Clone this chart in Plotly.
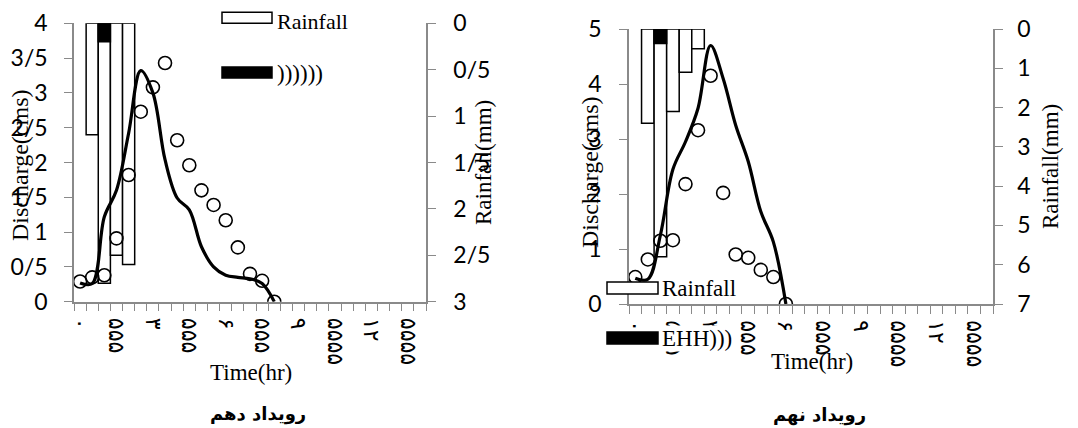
import plotly.graph_objects as go

# ---------------- data ----------------
# Event 10 (left chart)
ev10_obs_t = list(range(17))
ev10_obs_q = [0.29, 0.35, 0.38, 0.91, 1.82, 2.73, 3.08, 3.43, 2.32, 1.96,
              1.60, 1.39, 1.17, 0.78, 0.40, 0.30, 0.0]
ev10_sim_t = list(range(17))
ev10_sim_q = [0.27, 0.26, 1.22, 1.60, 2.42, 3.32, 3.00, 2.04, 1.49, 1.32,
              0.79, 0.50, 0.38, 0.35, 0.33, 0.26, 0.0]
ev10_rain_t = [1, 2, 3, 4]
ev10_rain = [1.2, 2.8, 2.5, 2.6]
ev10_excess_t = [2]
ev10_excess = [0.2]

# Event 9 (right chart)
ev9_obs_t = list(range(13))
ev9_obs_q = [0.49, 0.81, 1.15, 1.16, 2.18, 3.16, 4.15, 2.02, 0.90, 0.84,
             0.62, 0.49, 0.0]
ev9_sim_t = list(range(13))
ev9_sim_q = [0.47, 0.45, 1.25, 2.45, 2.95, 3.56, 4.70, 4.10, 3.25, 2.59,
             1.68, 1.13, 0.0]
ev9_rain_t = [1, 2, 3, 4, 5]
ev9_rain = [2.4, 5.8, 2.1, 1.1, 0.5]
ev9_excess_t = [2]
ev9_excess = [0.37]

# axis ticks (category boundaries carry the tick marks; every third one a label)
n_cats = 29
x_label_cats = [0, 3, 6, 9, 12, 15, 18, 21, 24, 27]
x_label_text = ["۰", "۵۵۵", "۳", "۵۵۵", "۶", "۵۵۵", "۹", "۵۵۵۵", "۱۲", "۵۵۵۵"]
x_boundaries = [k - 0.5 for k in range(n_cats + 1)]
x_boundary_text = [x_label_text[x_label_cats.index(k)] if k in x_label_cats else ""
                   for k in range(n_cats + 1)]
ev10_q_ticks = [0, 0.5, 1, 1.5, 2, 2.5, 3, 3.5, 4]
ev10_q_text = ["0", "0/5", "1", "1/5", "2", "2/5", "3", "3/5", "4"]
ev10_r_ticks = [0, 0.5, 1, 1.5, 2, 2.5, 3]
ev10_r_text = ["0", "0/5", "1", "1/5", "2", "2/5", "3"]
ev9_q_ticks = [0, 1, 2, 3, 4, 5]
ev9_q_text = ["0", "1", "2", "3", "4", "5"]
ev9_r_ticks = [0, 1, 2, 3, 4, 5, 6, 7]
ev9_r_text = ["0", "1", "2", "3", "4", "5", "6", "7"]

# ---------------- figure ----------------
# page body has an 8px margin, so the figure is sized to fill the rest of the window
OFF = 8
W, H = 1078 - OFF, 428 - OFF


def px(x):
    return (x - OFF) / W


def py(y):
    return 1 - (y - OFF) / H


GRAY = "#8a8a8a"
SERIF = "Liberation Serif"
TICKFONT = dict(family="Lato", size=23, color="black")

fig = go.Figure()

bar_white = dict(color="white", line=dict(color="black", width=1.5))
bar_black = dict(color="black", line=dict(color="black", width=1.5))
line_style = dict(color="black", width=3.2, shape="spline", smoothing=1.0)
marker_style = dict(symbol="circle-open", size=13, color="black",
                    line=dict(width=1.6, color="black"))

# left chart
fig.add_trace(go.Bar(x=ev10_rain_t, y=ev10_rain, width=1, marker=bar_white,
                     xaxis="x", yaxis="y", showlegend=False))
fig.add_trace(go.Bar(x=ev10_excess_t, y=ev10_excess, width=1, marker=bar_black,
                     xaxis="x", yaxis="y", showlegend=False))
fig.add_trace(go.Scatter(x=ev10_sim_t, y=ev10_sim_q, mode="lines", line=line_style,
                         xaxis="x", yaxis="y2", showlegend=False))
fig.add_trace(go.Scatter(x=ev10_obs_t, y=ev10_obs_q, mode="markers", marker=marker_style,
                         xaxis="x", yaxis="y2", showlegend=False))

# right chart
fig.add_trace(go.Bar(x=ev9_rain_t, y=ev9_rain, width=1, marker=bar_white,
                     xaxis="x2", yaxis="y3", showlegend=False))
fig.add_trace(go.Bar(x=ev9_excess_t, y=ev9_excess, width=1, marker=bar_black,
                     xaxis="x2", yaxis="y3", showlegend=False))
fig.add_trace(go.Scatter(x=ev9_sim_t, y=ev9_sim_q, mode="lines", line=line_style,
                         xaxis="x2", yaxis="y4", showlegend=False))
fig.add_trace(go.Scatter(x=ev9_obs_t, y=ev9_obs_q, mode="markers", marker=marker_style,
                         xaxis="x2", yaxis="y4", showlegend=False))


def xaxis_cfg(domain, anchor, cat_px):
    return dict(domain=domain, anchor=anchor, range=[-0.5, n_cats - 0.5],
                showline=True, linecolor=GRAY, linewidth=1.5, showgrid=False,
                zeroline=False, tickmode="array", tickvals=x_boundaries,
                ticktext=x_boundary_text, ticks="outside", ticklen=8,
                tickcolor=GRAY, tickwidth=1.3, tickangle=90, automargin=False,
                ticklabelshift=int(round(cat_px / 2)),
                tickfont=dict(family="DejaVu Sans", size=22, color="black"),
                ticklabelstandoff=2)


def yaxis_cfg(rng, vals, text, side, standoff, **kw):
    d = dict(range=rng, tickmode="array", tickvals=vals, ticktext=text, side=side,
             showline=True, linecolor=GRAY, linewidth=1.5, ticks="outside",
             ticklen=8, tickcolor=GRAY, tickwidth=1.3, showgrid=False,
             zeroline=False, tickfont=TICKFONT, ticklabelstandoff=standoff,
             automargin=False)
    d.update(kw)
    return d


left_x0, left_x1 = 74, 426
right_x0, right_x1 = 629, 993
left_dom_x = [px(left_x0), px(left_x1)]
right_dom_x = [px(right_x0), px(right_x1)]
left_dom_y = [py(301.7), py(23.3)]
right_dom_y = [py(304), py(29)]

fig.update_layout(
    width=W, height=H, autosize=False,
    margin=dict(l=0, r=0, t=0, b=0, pad=0),
    paper_bgcolor="white", plot_bgcolor="rgba(0,0,0,0)",
    barmode="overlay", showlegend=False,
    xaxis=xaxis_cfg(left_dom_x, "y", (left_x1 - left_x0) / n_cats),
    xaxis2=xaxis_cfg(right_dom_x, "y3", (right_x1 - right_x0) / n_cats),
    yaxis=yaxis_cfg([3, 0], ev10_r_ticks, ev10_r_text, "right", 13,
                    domain=left_dom_y, anchor="x"),
    yaxis2=yaxis_cfg([0, 4], ev10_q_ticks, ev10_q_text, "left", 12,
                     overlaying="y", anchor="x"),
    yaxis3=yaxis_cfg([7, 0], ev9_r_ticks, ev9_r_text, "right", 10,
                     domain=right_dom_y, anchor="x2"),
    yaxis4=yaxis_cfg([0, 5], ev9_q_ticks, ev9_q_text, "left", 13,
                     overlaying="y3", anchor="x2"),
)

ann = []


def add_text(text, x, y, size=23, angle=0, xanchor="center", family=SERIF,
             bold=False, bg=None):
    a = dict(text=("<b>%s</b>" % text) if bold else text, x=px(x), y=py(y),
             xref="paper", yref="paper", showarrow=False, textangle=angle,
             xanchor=xanchor, yanchor="middle", borderpad=0,
             font=dict(family=family, size=size, color="black"))
    if bg:
        a["bgcolor"] = bg
    ann.append(a)


# left chart texts
add_text("Discharge(cms)", 20, 165, size=24, angle=-90)
add_text("Rainfall(mm)", 483, 163, size=23, angle=-90)
add_text("Time(hr)", 251, 372, size=23)
add_text("رویداد دهم", 258, 414, size=18, family="DejaVu Sans", bold=True)
add_text("Rainfall", 276, 21, size=22, xanchor="left")
add_text("))))))", 276, 73, size=23, xanchor="left")

# right chart texts
add_text("Discharge(cms)", 590, 172, size=24, angle=-90)
add_text("Rainfall(mm)", 1050, 167, size=23, angle=-90)
add_text("Time(hr)", 812, 361, size=23)
add_text("رویداد نهم", 819, 415, size=18, family="DejaVu Sans", bold=True)
add_text("Rainfall", 661, 288, size=23, xanchor="left")
add_text("EHH)))", 661, 338, size=23, xanchor="left", bg="white")

shapes = []


def add_box(x0, y0, x1, y1, fill):
    shapes.append(dict(type="rect", xref="paper", yref="paper",
                       x0=px(x0), x1=px(x1), y0=py(y1), y1=py(y0),
                       fillcolor=fill, line=dict(color="black", width=1.5),
                       layer="above"))


add_box(222, 12.3, 272, 23.3, "white")
add_box(222, 67, 272, 78, "black")
add_box(607, 282, 658, 294, "white")
add_box(607, 332, 658, 344, "black")

fig.update_layout(annotations=ann, shapes=shapes)

fig.write_html("out.html")
